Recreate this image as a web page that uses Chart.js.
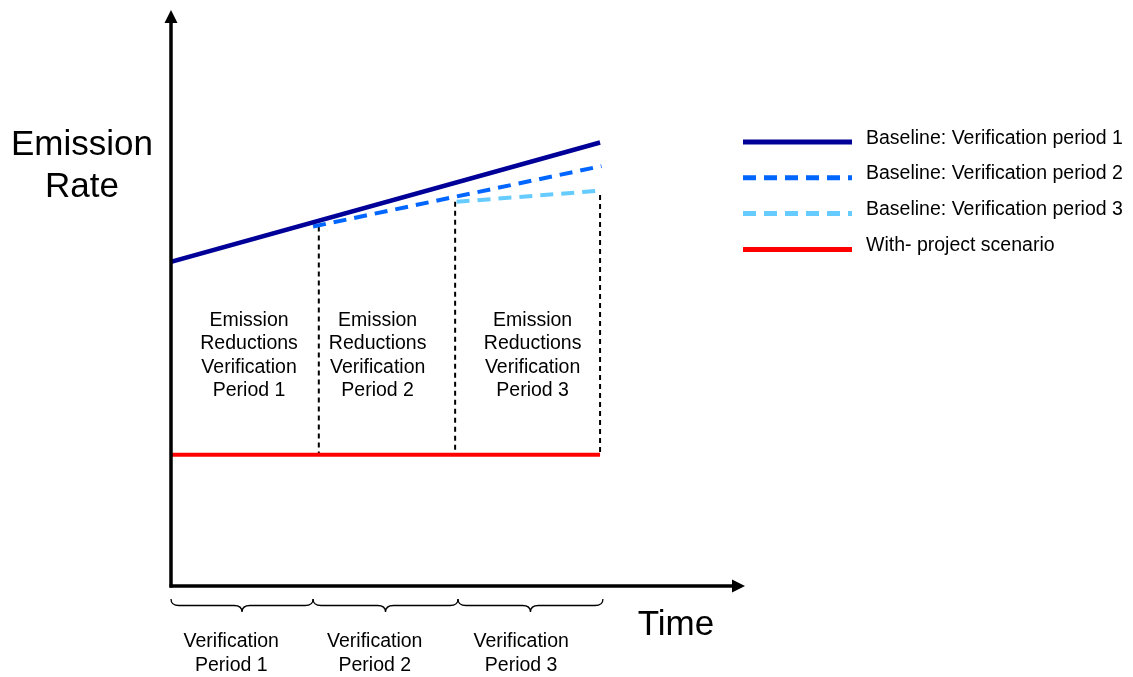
<!DOCTYPE html>
<html>
<head>
<meta charset="utf-8">
<script src="https://cdn.jsdelivr.net/npm/chart.js@4.4.0/dist/chart.umd.min.js"></script>
<style>
  html, body { margin: 0; padding: 0; background: #ffffff; }
  #wrap { position: relative; width: 1133px; height: 677px; }
</style>
</head>
<body>
<div id="wrap"><canvas id="c"></canvas></div>
<script>
// ---------- DATA (time in verification-period units, emission rate in arbitrary units) ----------
const seriesLabels = [
  'Baseline: Verification period 1',
  'Baseline: Verification period 2',
  'Baseline: Verification period 3',
  'With- project scenario'
];
const baseline1 = [{ x: 0, y: 5.63 }, { x: 2.99, y: 7.70 }];
const baseline2 = [{ x: 0.99, y: 6.24 }, { x: 3.0, y: 7.29 }];
const baseline3 = [{ x: 1.99, y: 6.67 }, { x: 2.97, y: 6.86 }];
const withProject = [{ x: 0, y: 2.28 }, { x: 2.99, y: 2.28 }];

const separatorX = [1.03, 1.98, 2.99];
const separatorTop = [6.24, 6.67, 6.79];
const separatorBottom = 2.28;

const braceRanges = [[0, 0.99], [0.99, 2.0], [2.0, 3.01]];
const periodLabels = [['Verification', 'Period 1'], ['Verification', 'Period 2'], ['Verification', 'Period 3']];
const periodLabelX = [0.42, 1.42, 2.44];

const reductionLabels = [
  ['Emission', 'Reductions', 'Verification', 'Period 1'],
  ['Emission', 'Reductions', 'Verification', 'Period 2'],
  ['Emission', 'Reductions', 'Verification', 'Period 3']
];
const reductionLabelX = [0.544, 1.44, 2.52];
const reductionLabelY = 4.52;

const yAxisTitle = ['Emission', 'Rate'];
const xAxisTitle = 'Time';

// ---------- STYLES ----------
const FONT = "'Liberation Sans', Arial, Helvetica, sans-serif";
const colors = ['#000099', '#0066FF', '#66CCFF', '#FF0000'];
const dashes = [[], [13, 8], [13, 8], []];

const datasets = [
  { label: seriesLabels[0], data: baseline1, borderColor: colors[0], borderWidth: 4.5, borderDash: dashes[0] },
  { label: seriesLabels[1], data: baseline2, borderColor: colors[1], borderWidth: 4, borderDash: dashes[1] },
  { label: seriesLabels[2], data: baseline3, borderColor: colors[2], borderWidth: 4, borderDash: dashes[2] },
  { label: seriesLabels[3], data: withProject, borderColor: colors[3], borderWidth: 4, borderDash: dashes[3] }
].map(d => Object.assign(d, { pointRadius: 0, fill: false, tension: 0, borderCapStyle: 'butt' }));

separatorX.forEach((x, i) => {
  datasets.push({
    label: 'separator' + (i + 1),
    data: [{ x: x, y: separatorTop[i] }, { x: x, y: separatorBottom }],
    borderColor: '#000000', borderWidth: 2, borderDash: [5, 4],
    pointRadius: 0, fill: false, order: 5, isSeparator: true
  });
});

function brace(ctx, x0, x1, yTop, depth) {
  const xm = (x0 + x1) / 2, r = 8, yMid = yTop + depth * 0.5, yTip = yTop + depth;
  ctx.beginPath();
  ctx.moveTo(x0, yTop);
  ctx.quadraticCurveTo(x0, yMid, x0 + r, yMid);
  ctx.lineTo(xm - r, yMid);
  ctx.quadraticCurveTo(xm, yMid, xm, yTip);
  ctx.quadraticCurveTo(xm, yMid, xm + r, yMid);
  ctx.lineTo(x1 - r, yMid);
  ctx.quadraticCurveTo(x1, yMid, x1, yTop);
  ctx.stroke();
}

const decorations = {
  id: 'decorations',
  afterDatasetsDraw(chart) {
    const ctx = chart.ctx;
    const xs = chart.scales.x, ys = chart.scales.y;
    ctx.save();

    // Axes with arrows
    ctx.strokeStyle = '#000'; ctx.fillStyle = '#000'; ctx.lineWidth = 3.5; ctx.setLineDash([]);
    const ox = xs.getPixelForValue(0), oy = ys.getPixelForValue(0);
    const topY = ys.getPixelForValue(ys.max), rightX = xs.getPixelForValue(xs.max);
    ctx.beginPath(); ctx.moveTo(ox, oy + 1.5); ctx.lineTo(ox, topY + 10); ctx.stroke();
    ctx.beginPath(); ctx.moveTo(ox - 1.5, oy); ctx.lineTo(rightX - 10, oy); ctx.stroke();
    ctx.beginPath(); ctx.moveTo(ox, topY); ctx.lineTo(ox - 6.5, topY + 13); ctx.lineTo(ox + 6.5, topY + 13); ctx.closePath(); ctx.fill();
    ctx.beginPath(); ctx.moveTo(rightX, oy); ctx.lineTo(rightX - 13, oy - 6.5); ctx.lineTo(rightX - 13, oy + 6.5); ctx.closePath(); ctx.fill();

    // Axis titles
    ctx.textAlign = 'center'; ctx.textBaseline = 'alphabetic';
    ctx.font = '35px ' + FONT;
    ctx.fillText(yAxisTitle[0], 82, 155);
    ctx.fillText(yAxisTitle[1], 82, 197);
    ctx.fillText(xAxisTitle, 676, 635);

    // Reduction labels inside chart
    ctx.font = '19.5px ' + FONT;
    reductionLabels.forEach((lines, i) => {
      const px = xs.getPixelForValue(reductionLabelX[i]);
      const py = ys.getPixelForValue(reductionLabelY);
      lines.forEach((t, j) => ctx.fillText(t, px, py + j * 23.6));
    });

    // Braces + period labels below x axis
    ctx.lineWidth = 1.3;
    braceRanges.forEach(([a, b]) => brace(ctx, xs.getPixelForValue(a), xs.getPixelForValue(b), oy + 13, 13));
    periodLabels.forEach((lines, i) => {
      const px = xs.getPixelForValue(periodLabelX[i]);
      lines.forEach((t, j) => ctx.fillText(t, px, oy + 61 + j * 23.5));
    });

    // Legend
    ctx.textAlign = 'left';
    chart.data.datasets.forEach((ds, i) => {
      if (ds.isSeparator) return;
      const ly = 142 + i * 35.8;
      ctx.strokeStyle = ds.borderColor;
      ctx.lineWidth = 5;
      ctx.setLineDash(ds.borderDash || []);
      ctx.beginPath(); ctx.moveTo(743, ly); ctx.lineTo(852, ly); ctx.stroke();
      ctx.setLineDash([]);
      ctx.fillStyle = '#000';
      ctx.font = '19.5px ' + FONT;
      ctx.fillText(ds.label, 866, ly + 1.5);
    });
    ctx.restore();
  }
};

new Chart(document.getElementById('c'), {
  type: 'line',
  data: { datasets: datasets },
  options: {
    responsive: true,
    maintainAspectRatio: false,
    animation: false,
    layout: { padding: { left: 171, right: 388, top: 10, bottom: 91 } },
    scales: {
      x: { type: 'linear', min: 0, max: 4, display: false },
      y: { type: 'linear', min: 0, max: 10, display: false }
    },
    plugins: { legend: { display: false }, tooltip: { enabled: false } }
  },
  plugins: [decorations]
});
</script>
</body>
</html>
